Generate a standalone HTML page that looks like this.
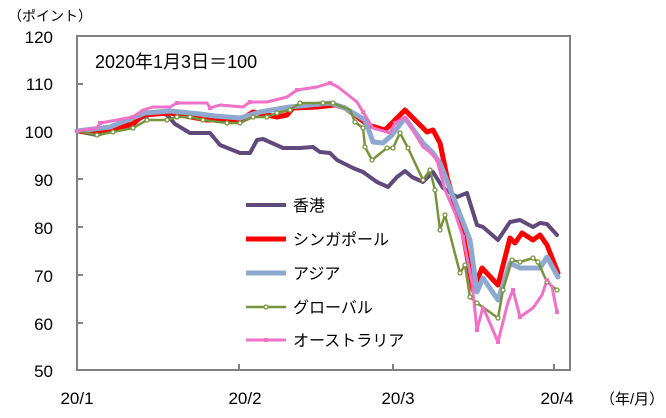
<!DOCTYPE html>
<html><head><meta charset="utf-8"><style>
body{margin:0;background:#fff}
svg text{font-family:"Liberation Sans","Noto Sans CJK JP",sans-serif;fill:#000}
</style></head><body>
<svg width="666" height="413" viewBox="0 0 666 413" xmlns="http://www.w3.org/2000/svg">
<rect width="666" height="413" fill="#fff"/>
<text x="8" y="21" font-size="14">（ポイント）</text>
<g font-size="17" text-anchor="end">
<text x="53" y="43">120</text><text x="53" y="90">110</text><text x="53" y="138">100</text>
<text x="53" y="186">90</text><text x="53" y="234">80</text><text x="53" y="282">70</text>
<text x="53" y="330">60</text><text x="53" y="377">50</text>
</g>
<g font-size="17" text-anchor="middle">
<text x="77" y="404">20/1</text><text x="245" y="404">20/2</text><text x="398" y="404">20/3</text><text x="557" y="404">20/4</text>
</g>
<text x="600" y="404" font-size="15">（年/月）</text>
<g stroke="#808080" stroke-width="2" fill="none">
<rect x="77" y="36" width="493" height="334"/>
<path d="M77 84h6M77 131h6M77 179h6M77 227h6M77 275h6M77 323h6M239 370v-6M393 370v-6M554 370v-6"/>
</g>
<text x="95" y="68" font-size="18">2020年1月3日＝100</text>
<g fill="none" stroke-linejoin="round" stroke-linecap="round">
<polyline stroke="#604A7B" stroke-width="4" points="77,131 97,135 133,123 143,117 160,112 167,115 175,124 190,133 210,133 220,145 240,153 250,153 257,140 263,139 283,148 300,148 313,147 320,152 330,153 337,160 353,168 363,172 377,182 388,187 397,177 405,171 412,177 423,182 430,175 433,172 443,188 457,197 467,193 477,225 483,227 498,240 510,222 520,220 533,227 540,223 547,224 557,235"/>
<polyline stroke="#FF0000" stroke-width="5" points="77,131 97,133 133,124 143,115 170,113 207,120 240,120 253,112 277,117 287,115 293,108 317,107 335,105 345,108 355,115 368,125 385,130 395,120 405,110 427,132 433,130 440,143 447,177 463,233 473,290 482,268 498,285 510,238 515,243 522,233 533,240 540,235 547,245 558,273"/>
<polyline stroke="#8EA9CF" stroke-width="5" points="77,131 110,127 145,113 170,111 200,114 215,116 240,118 260,112 290,107 330,103 345,108 365,120 373,142 383,143 392,135 405,118 423,143 433,153 440,163 470,240 477,292 483,278 498,300 510,263 520,268 540,268 547,257 558,277"/>
<polyline id="g" stroke="#77933C" stroke-width="2.5" points="77,131 97,135 113,132 133,128 147,120 167,120 177,117 190,117 203,120 227,123 240,123 253,117 267,117 277,113 290,110 300,103 323,103 333,103 340,106 350,110 355,122 363,128 365,147 372,160 387,148 393,148 400,133 408,148 423,180 430,170 435,190 440,230 445,215 460,273 465,265 470,297 477,303 498,318 503,290 512,260 520,262 533,258 538,262 547,282 557,290"/>
<polyline stroke="#F071C8" stroke-width="3" points="77,131 97,128 100,123 117,120 133,117 143,110 153,107 170,107 177,103 207,103 210,108 220,105 243,107 250,102 267,102 287,97 297,90 317,87 330,83 338,87 357,102 363,112 373,128 390,133 395,123 405,117 423,147 430,152 437,160 445,190 455,213 463,237 472,283 477,330 483,307 498,342 503,322 508,302 513,290 520,317 533,308 542,295 547,280 552,287 557,312"/>
</g>
<g fill="#fff" stroke="#77933C" stroke-width="1.3">
<circle cx="97" cy="135" r="2"/><circle cx="113" cy="132" r="2"/><circle cx="133" cy="128" r="2"/><circle cx="147" cy="120" r="2"/><circle cx="167" cy="120" r="2"/><circle cx="177" cy="117" r="2"/><circle cx="190" cy="117" r="2"/><circle cx="203" cy="120" r="2"/><circle cx="227" cy="123" r="2"/><circle cx="240" cy="123" r="2"/><circle cx="253" cy="117" r="2"/><circle cx="267" cy="117" r="2"/><circle cx="277" cy="113" r="2"/><circle cx="290" cy="110" r="2"/><circle cx="300" cy="103" r="2"/><circle cx="323" cy="103" r="2"/><circle cx="333" cy="103" r="2"/><circle cx="355" cy="122" r="2"/><circle cx="363" cy="128" r="2"/><circle cx="365" cy="147" r="2"/><circle cx="372" cy="160" r="2"/><circle cx="387" cy="148" r="2"/><circle cx="393" cy="148" r="2"/><circle cx="400" cy="133" r="2"/><circle cx="408" cy="148" r="2"/><circle cx="423" cy="180" r="2"/><circle cx="430" cy="170" r="2"/><circle cx="435" cy="190" r="2"/><circle cx="440" cy="230" r="2"/><circle cx="445" cy="215" r="2"/><circle cx="460" cy="273" r="2"/><circle cx="465" cy="265" r="2"/><circle cx="470" cy="297" r="2"/><circle cx="477" cy="303" r="2"/><circle cx="498" cy="318" r="2"/><circle cx="503" cy="290" r="2"/><circle cx="512" cy="260" r="2"/><circle cx="520" cy="262" r="2"/><circle cx="533" cy="258" r="2"/><circle cx="538" cy="262" r="2"/><circle cx="547" cy="282" r="2"/><circle cx="557" cy="290" r="2"/>
</g>
<g fill="#F071C8">
<rect x="98" y="121" width="4" height="4"/><rect x="131" y="115" width="4" height="4"/><rect x="175" y="101" width="4" height="4"/><rect x="208" y="106" width="4" height="4"/><rect x="248" y="100" width="4" height="4"/><rect x="295" y="88" width="4" height="4"/><rect x="328" y="81" width="4" height="4"/><rect x="361" y="110" width="4" height="4"/><rect x="393" y="121" width="4" height="4"/><rect x="435" y="158" width="4" height="4"/><rect x="461" y="235" width="4" height="4"/><rect x="475" y="328" width="4" height="4"/><rect x="496" y="340" width="4" height="4"/><rect x="511" y="288" width="4" height="4"/><rect x="518" y="315" width="4" height="4"/><rect x="545" y="278" width="4" height="4"/><rect x="555" y="310" width="4" height="4"/>
</g>
<g font-size="16">
<line x1="246" y1="205" x2="286" y2="205" stroke="#604A7B" stroke-width="4"/><text x="293" y="211">香港</text>
<line x1="246" y1="239" x2="286" y2="239" stroke="#FF0000" stroke-width="5"/><text x="293" y="245">シンガポール</text>
<line x1="246" y1="273" x2="286" y2="273" stroke="#8EA9CF" stroke-width="5"/><text x="293" y="279">アジア</text>
<line x1="246" y1="307" x2="286" y2="307" stroke="#77933C" stroke-width="2.5"/><circle cx="266" cy="307" r="2" fill="#fff" stroke="#77933C" stroke-width="1.3"/><text x="293" y="313">グローバル</text>
<line x1="246" y1="340" x2="286" y2="340" stroke="#F071C8" stroke-width="3"/><rect x="264" y="338" width="4" height="4" fill="#F071C8"/><text x="293" y="346">オーストラリア</text>
</g>
</svg>
</body></html>
